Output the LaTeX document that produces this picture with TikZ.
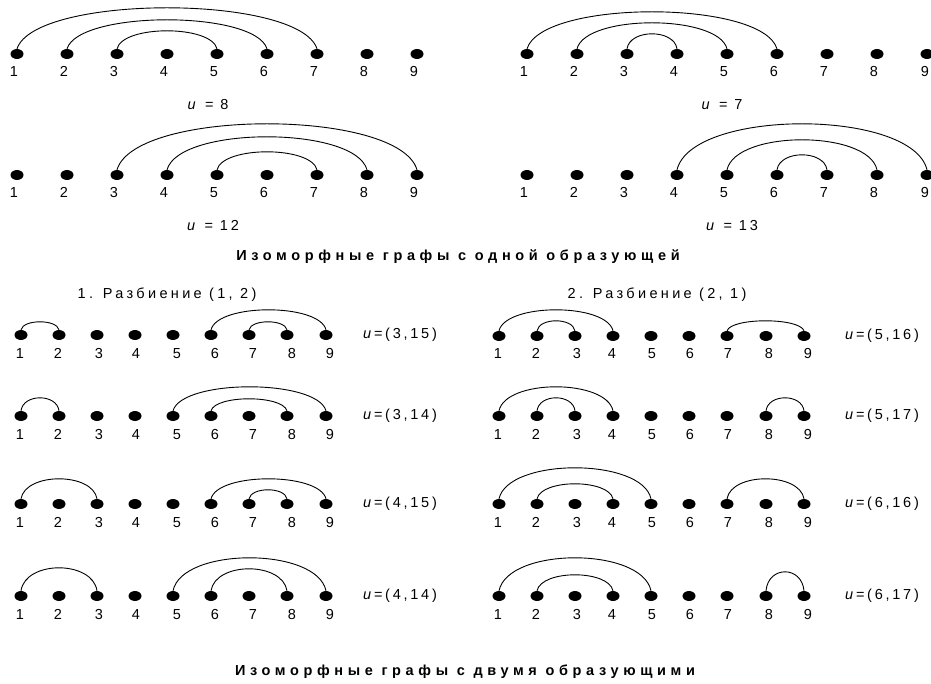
\documentclass[tikz,border=0pt]{standalone}
\usepackage{fontspec}
\setmainfont{Liberation Sans}
\newfontfamily\lsf[LetterSpace=19]{Liberation Sans}
\newfontfamily\ssf[LetterSpace=23]{Liberation Sans}
\newfontfamily\tsf[LetterSpace=32]{Liberation Sans}
\usetikzlibrary{shapes.geometric}
\tikzset{
 dot/.style={ellipse,fill=black,draw=none,minimum width=13pt,minimum height=10pt,inner sep=0pt},
 num/.style={inner sep=0pt,anchor=base,font=\fontsize{14.5}{17}\selectfont},
 ulabel/.style={inner sep=0pt,font=\fontsize{14.5}{17}\selectfont\lsf},
 sub/.style={inner sep=0pt,font=\fontsize{14.5}{17}\selectfont\ssf},
 ttl/.style={inner sep=0pt,font=\fontsize{14.5}{17}\selectfont\tsf\bfseries},
 arcline/.style={line width=0.9pt},
}
\newcommand\dotrow[4]{%
 \edef\mydotlist{#3}\edef\mylablist{#4}%
 \foreach \xx [count=\i] in \mydotlist {\node[dot] (#1\i) at (\xx,#2) {};}
 \foreach \xx [count=\i] in \mylablist {\node[num] (#1n\i) at (\xx,#2+23) {\i};}
}
\newcommand\darc[5]{%
 \draw[arcline] (#1#2.north) .. controls +({0.06*(#3-#2)*#4},{-#5*4/3}) and +({-0.06*(#3-#2)*#4},{-#5*4/3}) .. (#1#3.north);
}
\def\Ldots{21,59,97,135,173,211,249,287,326}
\def\Llabs{20,58,99,136,177,215,253,292,330}
\def\Rdots{499,537,575,613,651,689,727,766,804}
\def\Rlabs{498,536,577,612,652,690,728,769,808}
\begin{document}
\begin{tikzpicture}[x=1pt,y=-1pt]
\useasboundingbox (0,0) rectangle (931,684);
\clip (0,0) rectangle (931,684);
% top left
\dotrow{A}{54}{17,67,117,167,217,267,317,367,417}{14,64,114,164,214,264,314,364,414}
\darc{A}{1}{7}{50}{41}\darc{A}{2}{6}{50}{29}\darc{A}{3}{5}{50}{18}
\node[ulabel] (uA) at (208,105) {\textit{u} = 8};
% top right
\dotrow{B}{54}{527,577,627,677,727,777,827,877,927}{524,574,624,674,724,774,824,874,925}
\darc{B}{1}{6}{50}{37}\darc{B}{2}{5}{50}{26}\darc{B}{3}{4}{50}{15}
\node[ulabel] (uB) at (722,105) {\textit{u} = 7};
% second left
\dotrow{C}{175}{17,67,117,167,217,267,317,367,417}{14,64,114,164,214,264,314,364,414}
\darc{C}{3}{9}{50}{46}\darc{C}{4}{8}{50}{33}\darc{C}{5}{7}{50}{18}
\node[ulabel] (uC) at (213,226) {\textit{u} = 12};
% second right
\dotrow{D}{175}{527,577,627,677,727,777,827,877,927}{524,574,624,674,724,774,824,874,925}
\darc{D}{4}{9}{50}{46}\darc{D}{5}{8}{50}{30}\darc{D}{6}{7}{50}{15}
\node[ulabel] (uD) at (732,226) {\textit{u} = 13};
\node[ttl] (t1) at (458,257) {Изоморфные графы с одной образующей};
\node[sub] (s1) at (167,295) {1. Разбиение (1, 2)};
\node[sub] (s2) at (657,295) {2. Разбиение (2, 1)};
% bottom left
\dotrow{E}{335}{\Ldots}{\Llabs}
\darc{E}{1}{2}{38}{8}\darc{E}{6}{9}{38}{20}\darc{E}{7}{8}{38}{8}
\node[ulabel,anchor=west] (uE) at (363,335) {\textit{u}=(3,15)};
\dotrow{F}{416}{\Ldots}{\Llabs}
\darc{F}{1}{2}{38}{13}\darc{F}{5}{9}{38}{24}\darc{F}{6}{8}{38}{12}
\node[ulabel,anchor=west] (uF) at (363,416) {\textit{u}=(3,14)};
\dotrow{G}{504}{\Ldots}{\Llabs}
\darc{G}{1}{3}{38}{20}\darc{G}{6}{9}{38}{20}\darc{G}{7}{8}{38}{9}
\node[ulabel,anchor=west] (uG) at (363,504) {\textit{u}=(4,15)};
\dotrow{H}{596}{\Ldots}{\Llabs}
\darc{H}{1}{3}{38}{23}\darc{H}{5}{9}{38}{33}\darc{H}{6}{8}{38}{22}
\node[ulabel,anchor=west] (uH) at (363,596) {\textit{u}=(4,14)};
% bottom right
\dotrow{I}{336}{\Rdots}{\Rlabs}
\darc{I}{1}{4}{38}{21}\darc{I}{2}{3}{38}{10}\darc{I}{7}{9}{38}{10}
\node[ulabel,anchor=west] (uI) at (845,336) {\textit{u}=(5,16)};
\dotrow{J}{416}{\Rdots}{\Rlabs}
\darc{J}{1}{4}{38}{24}\darc{J}{2}{3}{38}{13}\darc{J}{8}{9}{38}{13}
\node[ulabel,anchor=west] (uJ) at (845,416) {\textit{u}=(5,17)};
\dotrow{K}{504}{\Rdots}{\Rlabs}
\darc{K}{1}{5}{38}{31}\darc{K}{2}{4}{38}{15}\darc{K}{7}{9}{38}{20}
\node[ulabel,anchor=west] (uK) at (845,504) {\textit{u}=(6,16)};
\dotrow{L}{596}{\Rdots}{\Rlabs}
\darc{L}{1}{5}{38}{33}\darc{L}{2}{4}{38}{16}\darc{L}{8}{9}{38}{19}
\node[ulabel,anchor=west] (uL) at (845,596) {\textit{u}=(6,17)};
\node[ttl] (t2) at (465,672) {Изоморфные графы с двумя образующими};
\end{tikzpicture}
\end{document}
